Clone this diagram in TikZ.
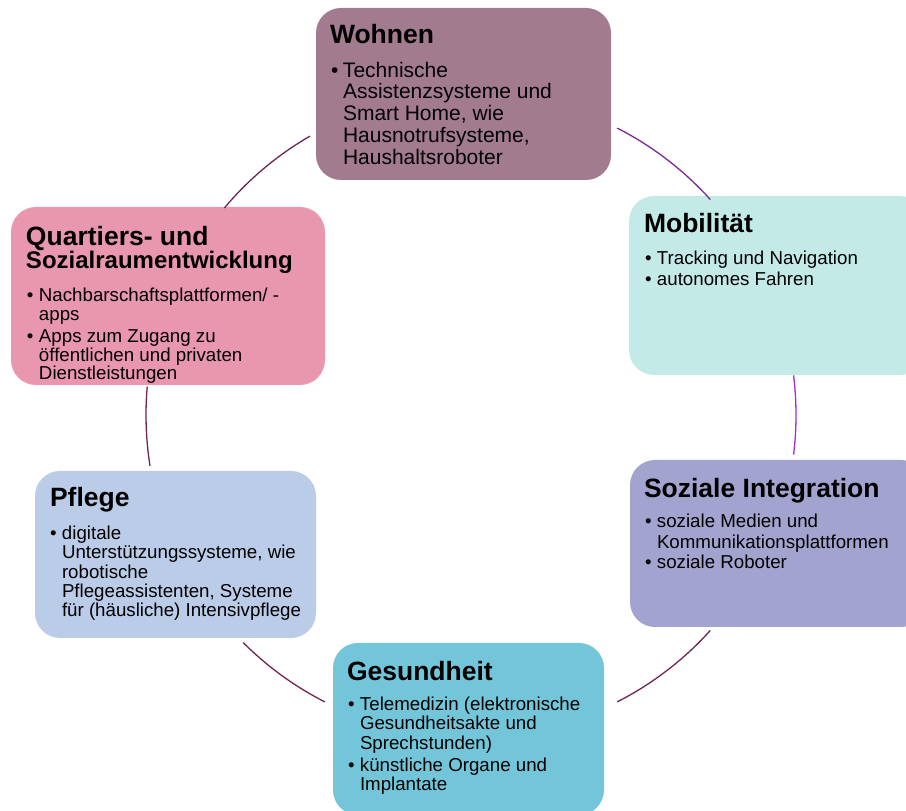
\documentclass[tikz,border=0pt]{standalone}
\usepackage{fontspec}
\setmainfont{Liberation Sans}
\usetikzlibrary{positioning}

\definecolor{wohnenfill}{HTML}{A37B8F}
\definecolor{mobilfill}{HTML}{C4EAE8}
\definecolor{quartfill}{HTML}{E996AF}
\definecolor{sozialfill}{HTML}{A3A3CF}
\definecolor{pflegefill}{HTML}{BBCCE8}
\definecolor{gesundfill}{HTML}{73C6DA}
\definecolor{ringdark}{HTML}{6E2550}
\definecolor{ringviolet}{HTML}{7B2A90}
\definecolor{ringlilac}{HTML}{A030D0}

\newcommand{\bul}{\makebox[12pt][l]{•}}
\newcommand{\ind}{\hspace*{12pt}}

\tikzset{
  area/.style={draw=none, rounded corners=25pt, inner sep=0pt},
  head/.style={inner sep=0pt, align=left, font=\bfseries\fontsize{26.5}{28}\selectfont},
  list/.style={inner sep=0pt, align=left, font=\fontsize{18.7}{19.3}\selectfont},
  ring/.style={line width=1.3pt, draw=ringdark}
}

\begin{document}
\begin{tikzpicture}[x=1pt,y=1pt]
\clip (0,0) rectangle (906,811);

\node(wohnen) at (463.5,717)[area,fill=wohnenfill,minimum width=295,minimum height=172] {};
\node(mobil)  at (777,525.5)[area,fill=mobilfill,minimum width=296,minimum height=179] {};
\node(quart)  at (168,515)  [area,fill=quartfill,minimum width=314,minimum height=178] {};
\node(sozial) at (778,267.5)[area,fill=sozialfill,minimum width=296,minimum height=167] {};
\node(pflege) at (175.5,256.5)[area,fill=pflegefill,minimum width=281,minimum height=167] {};
\node(gesund) at (468.5,82) [area,fill=gesundfill,minimum width=271,minimum height=172] {};

% titles
\node(wohnenhead)[head,below right=16 and 14 of wohnen.north west] {Wohnen};
\node(mobilhead) [head,below right=17 and 15 of mobil.north west]  {Mobilität};
\node(quarthead) [head,below right=19 and 15 of quart.north west,font=\bfseries]
  {\fontsize{26.5}{26}\selectfont Quartiers- und\\\fontsize{24}{27.5}\selectfont Sozialraumentwicklung};
\node(sozialhead)[head,below right=18 and 14 of sozial.north west] {Soziale Integration};
\node(pflegehead)[head,below right=16 and 15 of pflege.north west] {Pflege};
\node(gesundhead)[head,below right=18 and 14 of gesund.north west] {Gesundheit};

% lists
\node(wohnenlist)[list,below right=54 and 15 of wohnen.north west,font=\fontsize{21}{21.7}\selectfont]
  {\bul Technische\\\ind Assistenzsysteme und\\\ind Smart Home, wie\\\ind Hausnotrufsysteme,\\\ind Haushaltsroboter};
\node(mobillist)[list,below right=55 and 16 of mobil.north west,font=\fontsize{18.7}{21}\selectfont]
  {\bul Tracking und Navigation\\\bul autonomes Fahren};
\node(quartlist)[list,below right=81 and 16 of quart.north west,font=\fontsize{18.7}{18.5}\selectfont]
  {\bul Nachbarschaftsplattformen/ -\\\ind apps\\[4pt]\bul Apps zum Zugang zu\\\ind öffentlichen und privaten\\\ind Dienstleistungen};
\node(soziallist)[list,below right=54 and 15 of sozial.north west,font=\fontsize{18.7}{20.5}\selectfont]
  {\bul soziale Medien und\\\ind Kommunikationsplattformen\\\bul soziale Roboter};
\node(pflegelist)[list,below right=55 and 15 of pflege.north west]
  {\bul digitale\\\ind Unterstützungssysteme, wie\\\ind robotische\\\ind Pflegeassistenten, Systeme\\\ind für (häusliche) Intensivpflege};
\node(gesundlist)[list,below right=54 and 15 of gesund.north west]
  {\bul Telemedizin (elektronische\\\ind Gesundheitsakte und\\\ind Sprechstunden)\\[3pt]\bul künstliche Organe und\\\ind Implantate};

% ring between the areas
\coordinate(mid) at (471,396);
\coordinate(wm) at ([shift={(63:322)}]mid);
\coordinate(ms) at ([shift={(7:325)}]mid);
\coordinate(sg) at ([shift={(-42:322)}]mid);
\coordinate(gp) at ([shift={(-117:322)}]mid);
\coordinate(pq) at ([shift={(189:325)}]mid);
\coordinate(qw) at ([shift={(140:322)}]mid);

\draw[ring,draw=ringviolet] (wm) arc[start angle=63,end angle=42,radius=322];
\draw[ring,draw=ringlilac]  (ms) arc[start angle=7,end angle=-7,radius=325];
\draw[ring] (sg) arc[start angle=-42,end angle=-63,radius=322];
\draw[ring] (gp) arc[start angle=-117,end angle=-135,radius=322];
\draw[ring] (pq) arc[start angle=189,end angle=175,radius=325];
\draw[ring] (qw) arc[start angle=140,end angle=120,radius=322];

\end{tikzpicture}
\end{document}
